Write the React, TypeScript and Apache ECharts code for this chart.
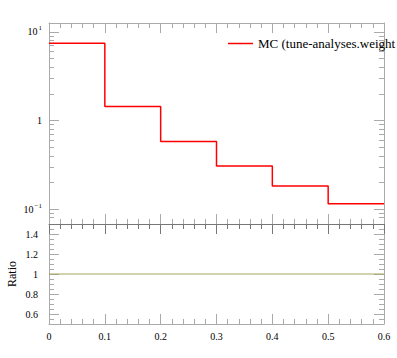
import React, { useEffect, useRef } from "react";
import * as echarts from "echarts";

const binEdges = [0, 0.1, 0.2, 0.3, 0.4, 0.5, 0.6];
const mcValues = [7.43, 1.44, 0.58, 0.306, 0.183, 0.115];
const ratioValues = [1, 1, 1, 1, 1, 1];
const xTicks = [0, 0.1, 0.2, 0.3, 0.4, 0.5, 0.6];
const logMajor = [0.1, 1, 10];
const logMinor = [0.08, 0.09, 0.2, 0.3, 0.4, 0.5, 0.6, 0.7, 0.8, 0.9, 2, 3, 4, 5, 6, 7, 8, 9];
const ratioMajor = [0.6, 0.8, 1, 1.2, 1.4];
const ratioMinor = [0.55, 0.65, 0.7, 0.75, 0.85, 0.9, 0.95, 1.05, 1.1, 1.15, 1.25, 1.3, 1.35, 1.45];
const legendName = "MC (tune-analyses.weight";

const FONT = "Liberation Serif";
const FRAME = "#aaaaaa";
const SEP = "#777777";

export default function App() {
  const ref = useRef<HTMLDivElement>(null);
  useEffect(() => {
    if (!ref.current) return;
    const chart = echarts.init(ref.current, null, { renderer: "svg" });

    const mcData: [number, number][] = mcValues.map((v, i) => [binEdges[i], v]);
    mcData.push([binEdges[binEdges.length - 1], mcValues[mcValues.length - 1]]);
    const ratioData: [number, number][] = ratioValues.map((v, i) => [binEdges[i], v]);
    ratioData.push([binEdges[binEdges.length - 1], ratioValues[ratioValues.length - 1]]);

    const xBase = (gridIndex: number, position: "top" | "bottom", labels: boolean, lineColor: string, showLine: boolean) => ({
      type: "value",
      gridIndex,
      position,
      min: 0,
      max: 0.6,
      interval: 0.1,
      axisLine: { show: showLine, onZero: false, lineStyle: { color: lineColor, width: 1 } },
      axisTick: { show: true, inside: true, length: 10, lineStyle: { color: position === "top" && gridIndex === 1 ? SEP : FRAME } },
      minorTick: { show: true, splitNumber: 5, length: 5, lineStyle: { color: position === "top" && gridIndex === 1 ? SEP : FRAME } },
      splitLine: { show: false },
      axisLabel: {
        show: labels,
        fontFamily: FONT,
        fontSize: 10,
        color: "#000",
        margin: 7,
        customValues: xTicks,
        formatter: (v: number) => String(Math.round(v * 10) / 10),
      },
    });

    const logAxis = (position: "left" | "right", major: boolean, showLabels: boolean) => ({
      type: "log",
      gridIndex: 0,
      position,
      min: 0.068,
      max: 12.6,
      axisLine: { show: major, onZero: false, lineStyle: { color: FRAME } },
      axisTick: {
        show: true,
        inside: true,
        length: major ? 10 : 5,
        customValues: major ? logMajor : logMinor,
        lineStyle: { color: FRAME },
      },
      splitLine: { show: false },
      axisLabel: {
        show: showLabels,
        customValues: logMajor,
        fontFamily: FONT,
        fontSize: 10,
        color: "#000",
        margin: 7,
        formatter: (v: number) => {
          const e = Math.round(Math.log10(v));
          if (e === 0) return "1";
          if (e === 1) return "10{s|1}";
          return "10{s|\u22121}";
        },
        rich: {
          s: { fontSize: 7, fontFamily: FONT, color: "#000", padding: [0, 0, 7, 1] },
        },
      },
    });

    const ratioAxis = (position: "left" | "right", major: boolean, showLabels: boolean) => ({
      type: "value",
      gridIndex: 1,
      position,
      min: 0.5,
      max: 1.5,
      axisLine: { show: major, onZero: false, lineStyle: { color: FRAME } },
      axisTick: {
        show: true,
        inside: true,
        length: major ? 10 : 5,
        customValues: major ? ratioMajor : ratioMinor,
        lineStyle: { color: FRAME },
      },
      splitLine: { show: false },
      name: showLabels ? "Ratio" : "",
      nameLocation: "middle",
      nameGap: 31,
      nameRotate: 90,
      nameMoveOverlap: false,
      nameTextStyle: { fontFamily: FONT, fontSize: 12, color: "#000" },
      axisLabel: {
        show: showLabels,
        customValues: ratioMajor,
        fontFamily: FONT,
        fontSize: 10,
        color: "#000",
        margin: 11,
        formatter: (v: number) => String(Math.round(v * 10) / 10),
      },
    });

    chart.setOption({
      animation: false,
      backgroundColor: "#fff",
      textStyle: { fontFamily: FONT },
      grid: [
        { left: 49, right: 13, top: 23, height: 201, containLabel: false, outerBoundsMode: "none" },
        { left: 49, right: 13, top: 224, height: 100, containLabel: false, outerBoundsMode: "none" },
      ],
      legend: {
        data: [{ name: legendName, icon: "rect" }],
        left: 223,
        top: 32,
        itemWidth: 25,
        itemHeight: 1.5,
        itemGap: 10,
        itemStyle: { color: "#ff0000" },
        textStyle: { fontFamily: FONT, fontSize: 13, color: "#000" },
      },
      xAxis: [
        xBase(0, "bottom", false, FRAME, false),
        xBase(0, "top", false, FRAME, true),
        xBase(1, "bottom", true, FRAME, true),
        xBase(1, "top", false, SEP, true),
      ],
      yAxis: [
        logAxis("left", true, true),
        logAxis("left", false, false),
        logAxis("right", true, false),
        logAxis("right", false, false),
        ratioAxis("left", true, true),
        ratioAxis("left", false, false),
        ratioAxis("right", true, false),
        ratioAxis("right", false, false),
      ],
      series: [
        {
          name: legendName,
          type: "line",
          xAxisIndex: 0,
          yAxisIndex: 0,
          step: "end",
          symbol: "none",
          data: mcData,
          lineStyle: { color: "#ff0000", width: 1.5 },
          itemStyle: { color: "#ff0000" },
          z: 5,
        },
        {
          name: "ratio",
          type: "line",
          xAxisIndex: 2,
          yAxisIndex: 4,
          step: "end",
          symbol: "none",
          data: ratioData,
          lineStyle: { color: "#a5a55a", width: 1.2 },
          itemStyle: { color: "#a5a55a" },
        },
      ],
    });
    return () => chart.dispose();
  }, []);
  return <div ref={ref} style={{ width: 397, height: 358, position: "absolute", left: 0, top: 0 }} />;
}
